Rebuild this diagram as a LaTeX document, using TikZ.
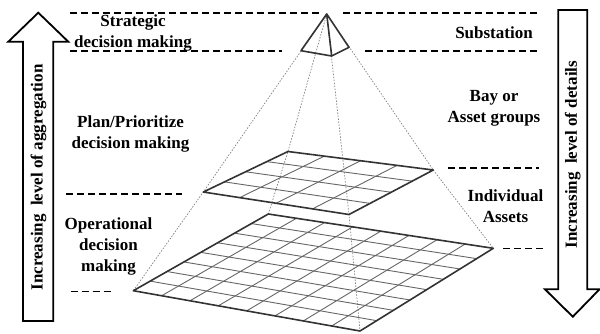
\documentclass[tikz,border=0pt]{standalone}
\usepackage{fontspec}
\setmainfont{Liberation Serif}
\usetikzlibrary{calc}
\usetikzlibrary{positioning}

\tikzset{
  lvltext/.style={font=\bfseries\fontsize{17}{21}\selectfont, align=center, inner sep=0pt},
  lvlline/.style={draw=black, line width=1.5pt, dash pattern=on 7pt off 4pt},
  sightline/.style={draw=black!50, line width=0.7pt, dash pattern=on 1.5pt off 1.5pt},
  planeedge/.style={draw=black!80, line width=1.6pt, line join=round},
  gridline/.style={draw=black!60, line width=0.9pt},
  bigarrow/.style={draw=black, fill=white, line width=1.8pt, line join=miter},
}

\begin{document}
\begin{tikzpicture}[x=1pt,y=-1pt]
  \useasboundingbox (0,0) rectangle (600,333);

  % pyramid corners
  \coordinate (apex) at (326.7,14);
  \coordinate (tl) at (301,50.7);
  \coordinate (tf) at (331.7,56);
  \coordinate (tr) at (349,47.3);
  \coordinate (mb) at (288,151.5);
  \coordinate (mr) at (433.3,170);
  \coordinate (ml) at (203.3,192);
  \coordinate (mf) at (349,214.5);
  \coordinate (bb) at (268.3,214);
  \coordinate (br) at (493.3,248.3);
  \coordinate (bl) at (133.3,290.7);
  \coordinate (bf) at (360,331);

  % arrows at the sides
  \draw[bigarrow] (23,321) -- (23,41.7) -- (8.3,41.7) -- (38.3,12.7)
    -- (68.3,41.7) -- (53.3,41.7) -- (53.3,321) -- cycle;
  \draw[bigarrow] (558.3,10) -- (587.3,10) -- (587.3,289.3) -- (599.5,289.3)
    -- (572.8,316.7) -- (545,289.3) -- (558.3,289.3) -- cycle;
  \node[lvltext, rotate=90] (aggr) at (38.5,177.5) {Increasing~~level of aggregation};
  \node[lvltext, rotate=90] (detail) at (572.8,154.7) {Increasing~~level of details};

  % level separators
  \draw[lvlline] (70,13) -- (320,13);
  \draw[lvlline] (343,13) -- (537,13);
  \draw[lvlline] (70,51) -- (282,51);
  \draw[lvlline] (365,51) -- (537,51);
  \draw[lvlline] (448,168) -- (539,168);
  \draw[lvlline] (66,194) -- (182,194);
  \draw[lvlline] (503,248.3) -- (546,248.3);
  \draw[lvlline] (70.7,291.7) -- (113,291.7);

  % lines of sight from the apex
  \draw[sightline] (apex) -- (mb) -- (bb);
  \draw[sightline] (apex) -- (ml) -- (bl);
  \draw[sightline] (apex) -- (mf) -- (bf);
  \draw[sightline] (apex) -- (mr) -- (br);

  % middle plane
  \foreach \i in {1,...,3} {
    \draw[gridline] ($(mb)!\i/4!(ml)$) -- ($(mr)!\i/4!(mf)$);
    \draw[gridline] ($(mb)!\i/4!(mr)$) -- ($(ml)!\i/4!(mf)$);
  }
  \draw[planeedge] (mb) -- (mr) -- (mf) -- (ml) -- cycle;

  % bottom plane
  \foreach \i in {1,...,7} {
    \draw[gridline] ($(bb)!\i/8!(bl)$) -- ($(br)!\i/8!(bf)$);
    \draw[gridline] ($(bb)!\i/8!(br)$) -- ($(bl)!\i/8!(bf)$);
  }
  \draw[planeedge] (bb) -- (br) -- (bf) -- (bl) -- cycle;

  % top of the pyramid
  \draw[planeedge] (apex) -- (tl) -- (tf) -- (tr) -- cycle;
  \draw[planeedge] (apex) -- (tf);

  % labels
  \node[lvltext] (strat) at (133,33) {Strategic\\decision making};
  \node[lvltext] (plan) at (130.5,133.5) {Plan/Prioritize\\decision making};
  \node[lvltext] (oper) at (108.5,246.3) {Operational\\decision\\making};
  \node[lvltext] (subst) at (494,33) {Substation};
  \node[lvltext] (bay) at (494,108) {Bay or\\Asset groups};
  \node[lvltext] (indiv) at (505.5,206) {Individual\\Assets};
\end{tikzpicture}
\end{document}
